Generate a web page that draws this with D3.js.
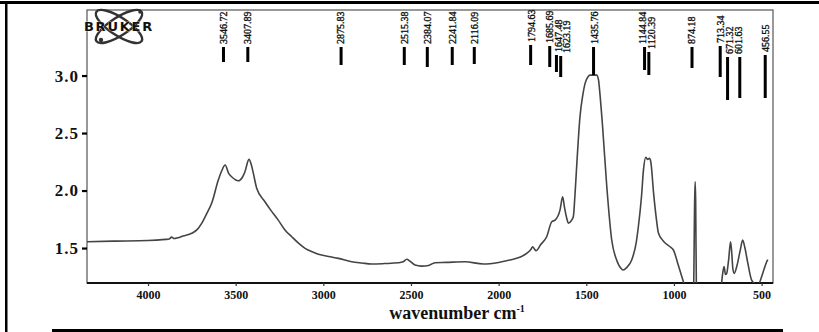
<!DOCTYPE html>
<html><head><meta charset="utf-8">
<script src="https://cdn.jsdelivr.net/npm/d3@7"></script>
<style>html,body{margin:0;padding:0;background:#fff;}svg{display:block;}</style>
</head><body>
<svg id="c" width="819" height="332"></svg>
<script>
// ---- data ----
const wavenumber = [4350,4200,4000,3900,3880,3865,3850,3830,3800,3751,3720,3694,3665,3637,3599,3580,3560,3540,3523,3485,3460,3447,3424,3410,3399,3380,3333,3300,3257,3220,3180,3140,3104,3060,3028,2960,2914,2838,2780,2724,2650,2572,2545,2524,2505,2477,2439,2400,2382,2363,2300,2192,2087,2000,1935,1880,1840,1815,1806,1795,1787,1760,1726,1697,1678,1650,1635,1625,1610,1602,1585,1574,1565,1555,1536,1520,1507,1490,1479,1441,1430,1426,1407,1383,1355,1327,1300,1289,1270,1241,1215,1203,1185,1174,1160,1150,1140,1132,1116,1100,1088,1060,1022,1003,975,946,920,895,888,882,879,876,872,860,740,728,722,714,706,699,688,677,670,664,656,640,622,608,595,580,557,535,519,500,485,471,465];
const absorbance = [1.555,1.56,1.565,1.575,1.578,1.595,1.583,1.59,1.605,1.628,1.66,1.715,1.80,1.889,2.091,2.17,2.222,2.15,2.12,2.085,2.12,2.164,2.271,2.22,2.149,2.019,1.903,1.83,1.743,1.66,1.598,1.54,1.497,1.465,1.445,1.425,1.41,1.381,1.37,1.361,1.365,1.372,1.38,1.402,1.385,1.352,1.343,1.348,1.361,1.372,1.375,1.381,1.361,1.375,1.396,1.42,1.454,1.49,1.511,1.49,1.477,1.53,1.598,1.729,1.743,1.83,1.946,1.86,1.75,1.715,1.74,1.772,1.95,2.207,2.642,2.83,2.932,2.99,3.004,3.004,2.96,2.903,2.555,2.033,1.57,1.396,1.32,1.309,1.33,1.396,1.55,1.685,1.95,2.178,2.29,2.27,2.28,2.25,1.975,1.75,1.628,1.56,1.511,1.483,1.35,1.207,1.10,1.10,1.15,1.9,2.077,1.9,1.15,1.10,1.10,1.20,1.28,1.338,1.27,1.28,1.40,1.555,1.45,1.32,1.28,1.35,1.48,1.57,1.50,1.38,1.222,1.19,1.185,1.25,1.32,1.381,1.40];
const peakLabels = ["3546.72","3407.89","2875.83","2515.38","2384.07","2241.84","2116.09","1794.63","1685.69","1647.48","1623.19","1435.76","1144.84","1120.39","874.18","713.34","671.32","601.63","456.55"];
const xTicks = [4000,3500,3000,2500,2000,1500,1000,500];
const yTicks = [1.5,2.0,2.5,3.0];
const xTitle = "wavenumber cm";
const logoText = "BRUKER";

// ---- layout / styles (not data) ----
const L=87, R=773, T=10, B=283;
const barExtent = { // pixel top / bottom of the marker bars
 "3546.72":[47,62],"3407.89":[47,62],"2875.83":[47,65],"2515.38":[47,65],"2384.07":[47,67],
 "2241.84":[47,65],"2116.09":[47,64],"1794.63":[45,65],"1685.69":[46,67],"1647.48":[55,72],
 "1623.19":[56,77],"1435.76":[47,75],"1144.84":[47,70],"1120.39":[52,75],"874.18":[47,68],
 "713.34":[46,77],"671.32":[57,100],"601.63":[57,98],"456.55":[55,98]};
const labelNudge = {"1685.69":-0.5,"1647.48":2.5,"1623.19":6,"1144.84":-1.5,"1120.39":2.5,"713.34":0.5,"671.32":2.5,"601.63":-1.5,"1794.63":1,"1435.76":1};
const barShift = -4;

const svg = d3.select("#c");
const x = d3.scaleLinear().domain([4348,435]).range([L,R]);
const y = d3.scaleLinear().domain([1.196,3.57]).range([B,T]);

// outer frame lines
svg.append("rect").attr("x",0).attr("y",1).attr("width",819).attr("height",3).attr("fill","#000");
svg.append("rect").attr("x",5).attr("y",1).attr("width",2.5).attr("height",331).attr("fill","#000");
svg.append("rect").attr("x",52).attr("y",329).attr("width",731).attr("height",3).attr("fill","#000");

// plot box
svg.append("rect").attr("x",L).attr("y",T).attr("width",R-L).attr("height",B-T)
  .attr("fill","none").attr("stroke","#555").attr("stroke-width",1.2);
svg.append("line").attr("x1",L).attr("x2",R).attr("y1",B).attr("y2",B)
  .attr("stroke","#111").attr("stroke-width",2.2);

// clip
svg.append("clipPath").attr("id","clip").append("rect").attr("x",L).attr("y",T).attr("width",R-L).attr("height",B-T);

// spectrum
const pts = wavenumber.map((w,i)=>[w,absorbance[i]]);
svg.append("path").datum(pts).attr("clip-path","url(#clip)")
  .attr("d", d3.line().x(d=>x(d[0])).y(d=>y(d[1])).curve(d3.curveMonotoneX))
  .attr("fill","none").attr("stroke","#444").attr("stroke-width",1.6).attr("stroke-linejoin","round");

// x axis
const xa = svg.append("g").attr("transform",`translate(0,${B})`)
  .call(d3.axisBottom(x).tickValues(xTicks).tickSize(3).tickFormat(d3.format("d")));
xa.select(".domain").remove();
xa.selectAll("line").attr("stroke","#333").attr("stroke-width",1.2);
xa.selectAll("text").attr("font-family","'Liberation Serif',serif").attr("font-weight","bold")
  .attr("font-size",12).attr("fill","#111").attr("y",7.5);

// y axis
const ya = svg.append("g").attr("transform",`translate(${L},0)`)
  .call(d3.axisLeft(y).tickValues(yTicks).tickSize(5).tickPadding(3).tickFormat(d3.format(".1f")));
ya.select(".domain").remove();
ya.selectAll("line").attr("stroke","#000").attr("stroke-width",2.2);
ya.selectAll("text").attr("font-family","'Liberation Serif',serif").attr("font-weight","bold")
  .attr("font-size",17).attr("fill","#111").attr("letter-spacing","1px");

// x title
const tt = svg.append("text").attr("x",457).attr("y",318.5).attr("text-anchor","middle")
  .attr("font-family","'Liberation Serif',serif").attr("font-weight","bold").attr("font-size",18).attr("fill","#111");
tt.append("tspan").text(xTitle);
tt.append("tspan").attr("dy",-7).attr("font-size",10).text("-1");

// peak markers
const pk = svg.append("g");
peakLabels.forEach(s=>{
  const w = +s, ext = barExtent[s], px = x(w)+barShift;
  pk.append("rect").attr("x",px-1.5).attr("y",ext[0]).attr("width",3).attr("height",ext[1]-ext[0]).attr("fill","#000");
  pk.append("text").attr("transform",`translate(${px+(labelNudge[s]||0)},${ext[0]-3}) rotate(-90)`)
    .attr("dy","0.33em").attr("font-family","'Liberation Serif',serif")
    .attr("font-size",10).attr("fill","#111").attr("stroke","#111").attr("stroke-width",0.35).text(s);
});

// logo
const lg = svg.append("g");
lg.append("ellipse").attr("cx",119).attr("cy",26.5).attr("rx",27).attr("ry",9)
  .attr("transform","rotate(33,119,26.5)").attr("fill","none").attr("stroke","#333").attr("stroke-width",2.4);
lg.append("ellipse").attr("cx",119).attr("cy",26.5).attr("rx",27).attr("ry",9)
  .attr("transform","rotate(-33,119,26.5)").attr("fill","none").attr("stroke","#333").attr("stroke-width",2.4);
lg.append("circle").attr("cx",101).attr("cy",40).attr("r",2.2).attr("fill","#333");
lg.append("circle").attr("cx",140).attr("cy",12).attr("r",1.8).attr("fill","#333");
lg.append("text").attr("x",119).attr("y",30.5).attr("text-anchor","middle")
  .attr("font-family","'DejaVu Sans',sans-serif").attr("font-weight","bold").attr("font-size",13)
  .attr("letter-spacing","1.8px").attr("fill","#111").attr("stroke","#fff").attr("stroke-width",0.5)
  .attr("paint-order","stroke").text(logoText);
</script>
</body></html>
